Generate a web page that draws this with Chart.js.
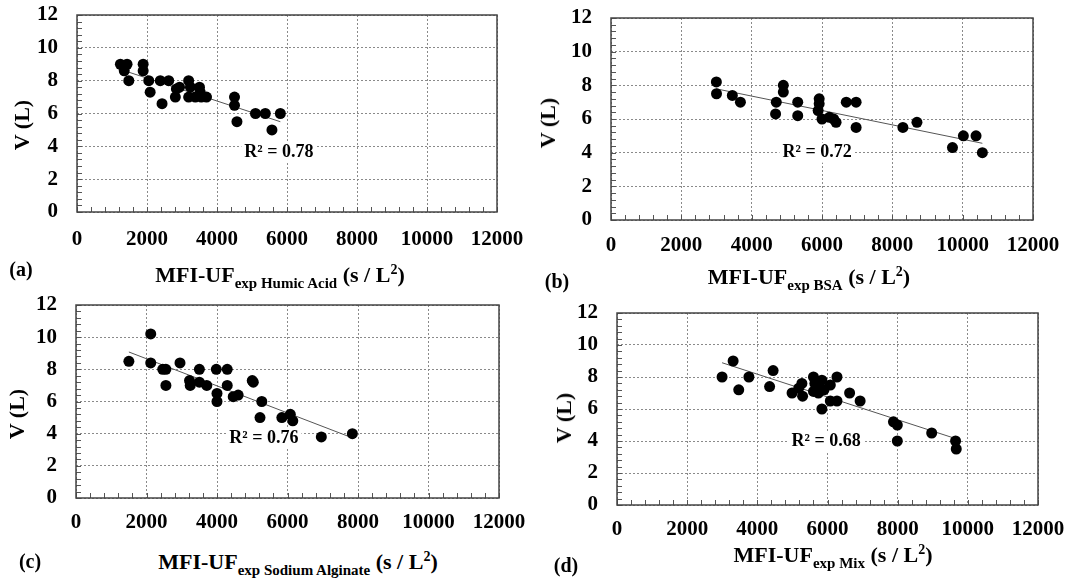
<!DOCTYPE html>
<html>
<head>
<meta charset="utf-8">
<script src="https://cdn.jsdelivr.net/npm/chart.js@4.4.0/dist/chart.umd.min.js"></script>
<style>
  body { margin: 0; background: #fff; width: 1070px; height: 579px; position: relative; overflow: hidden;
         font-family: "Liberation Serif", "Times New Roman", serif; font-weight: bold; color: #000; }
  canvas { position: absolute; }
  .lbl { position: absolute; white-space: nowrap; line-height: 1; }
  .xt { font-size: 22px; transform: translateX(-50%); }
  .xt sub { font-size: 15px; line-height: 0; vertical-align: -6px; }
  .xt sup { font-size: 14px; line-height: 0; vertical-align: 8px; }
  .yt { font-size: 22px; transform: translate(-50%, -50%) rotate(-90deg); }
  .pl { font-size: 20px; transform: translate(-50%, -50%); }
</style>
</head>
<body>

<canvas id="chartA"></canvas>
<canvas id="chartB"></canvas>
<canvas id="chartC"></canvas>
<canvas id="chartD"></canvas>

<div class="lbl yt" style="left:22px;top:125px">V (L)</div>
<div class="lbl yt" style="left:548px;top:123px">V (L)</div>
<div class="lbl yt" style="left:17px;top:414px">V (L)</div>
<div class="lbl yt" style="left:564px;top:418px">V (L)</div>

<div class="lbl xt" style="left:280px;top:264px">MFI-UF<sub>exp Humic Acid</sub> (s / L<sup>2</sup>)</div>
<div class="lbl xt" style="left:809px;top:266px">MFI-UF<sub>exp BSA</sub> (s / L<sup>2</sup>)</div>
<div class="lbl xt" style="left:298px;top:551px">MFI-UF<sub>exp Sodium Alginate</sub> (s / L<sup>2</sup>)</div>
<div class="lbl xt" style="left:833px;top:544px">MFI-UF<sub>exp Mix</sub> (s / L<sup>2</sup>)</div>

<div class="lbl pl" style="left:21px;top:269px">(a)</div>
<div class="lbl pl" style="left:557px;top:281px">(b)</div>
<div class="lbl pl" style="left:30px;top:561px">(c)</div>
<div class="lbl pl" style="left:566px;top:565px">(d)</div>

<script>
// MFI-UF (s/L2) vs filtered volume V (L)
var humicX = [1240, 1430, 1350, 1480, 1890, 1890, 2050, 2090, 2380, 2430, 2620, 2840, 2930, 2810,
              3190, 3240, 3190, 3380, 3500, 3520, 3550, 3700, 4500, 4500, 4570, 5100, 5380, 5570, 5810];
var humicY = [9.0, 9.0, 8.6, 8.0, 9.0, 8.6, 8.0, 7.3, 8.0, 6.6, 8.0, 7.5, 7.6, 7.0,
              8.0, 7.6, 7.0, 7.0, 7.6, 7.3, 7.0, 7.0, 7.0, 6.5, 5.5, 6.0, 6.0, 5.0, 6.0];

var bsaX = [2996, 3000, 3450, 3680, 4680, 4700, 4900, 4900, 5310, 5310, 5920, 5920, 5890, 6000,
            6210, 6400, 6330, 6690, 6970, 6970, 8300, 8700, 9710, 10020, 10380, 10560];
var bsaY = [8.2, 7.5, 7.4, 7.0, 6.3, 7.0, 8.0, 7.6, 7.0, 6.2, 7.2, 6.9, 6.5, 6.0,
            6.1, 5.8, 6.0, 7.0, 7.0, 5.5, 5.5, 5.8, 4.3, 5.0, 5.0, 4.0];

var alginateX = [1500, 2120, 2120, 2460, 2550, 2550, 2950, 3220, 3240, 3500, 3500, 3710, 3980, 4000,
                 4000, 4290, 4290, 4460, 4600, 5030, 5000, 5270, 5220, 5840, 6080, 6150, 6960, 7840];
var alginateY = [8.5, 10.2, 8.4, 8.0, 8.0, 7.0, 8.4, 7.3, 7.0, 7.2, 8.0, 7.0, 8.0, 6.5,
                 6.0, 8.0, 7.0, 6.3, 6.4, 7.2, 7.3, 6.0, 5.0, 5.0, 5.2, 4.8, 3.8, 4.0];

var mixX = [2995, 3310, 3470, 3760, 4350, 4450, 4990, 5180, 5270, 5290, 5600, 5640, 5600, 5700, 5740,
            5840, 5840, 5900, 6080, 6270, 6080, 6270, 6630, 6930, 7880, 7990, 7990, 8970, 9650, 9670];
var mixY = [8.0, 9.0, 7.2, 8.0, 7.4, 8.4, 7.0, 7.3, 7.6, 6.8, 8.0, 7.6, 7.1, 7.4, 7.0,
            7.8, 6.0, 7.2, 7.5, 8.0, 6.5, 6.5, 7.0, 6.5, 5.2, 5.0, 4.0, 4.5, 4.0, 3.5];

var r2Text = ['R\u00b2 = 0.78', 'R\u00b2 = 0.72', 'R\u00b2 = 0.76', 'R\u00b2 = 0.68'];

var xTicks = [0, 2000, 4000, 6000, 8000, 10000, 12000];
var yTicks = [0, 2, 4, 6, 8, 10, 12];

var tickFont = { family: 'Liberation Serif', size: 21, weight: 'bold' };

// least squares line over the data range
function fitLine(xs, ys) {
  var n = xs.length, sx = 0, sy = 0, sxx = 0, sxy = 0;
  for (var i = 0; i < n; i++) {
    sx += xs[i]; sy += ys[i]; sxx += xs[i] * xs[i]; sxy += xs[i] * ys[i];
  }
  var b = (n * sxy - sx * sy) / (n * sxx - sx * sx);
  var a = (sy - b * sx) / n;
  var x0 = Math.min.apply(null, xs), x1 = Math.max.apply(null, xs);
  return [{ x: x0, y: a + b * x0 }, { x: x1, y: a + b * x1 }];
}

// frame, inward minor ticks and the R2 note
var framePlugin = {
  id: 'frame',
  afterDatasetsDraw: function(chart, args, opts) {
    var ctx = chart.ctx, x = chart.scales.x, y = chart.scales.y;
    ctx.save();
    ctx.font = 'bold 18px Liberation Serif';
    ctx.textAlign = 'center';
    ctx.textBaseline = 'middle';
    var px = x.getPixelForValue(opts.noteAt[0]), py = y.getPixelForValue(opts.noteAt[1]);
    var w = ctx.measureText(opts.note).width;
    ctx.fillStyle = '#fff';
    ctx.fillRect(px - w / 2 - 3, py - 10, w + 6, 20);
    ctx.fillStyle = '#000';
    ctx.fillText(opts.note, px, py);
    ctx.restore();
  },
  afterDraw: function(chart) {
    var ctx = chart.ctx, a = chart.chartArea, x = chart.scales.x, y = chart.scales.y;
    ctx.save();
    ctx.strokeStyle = '#555';
    ctx.lineWidth = 1;
    ctx.beginPath();
    for (var i = 0; i <= 30; i++) {
      var tx = Math.round(x.getPixelForValue(i * 400)) + 0.5;
      ctx.moveTo(tx, a.bottom); ctx.lineTo(tx, a.bottom - 5);
      var ty = Math.round(y.getPixelForValue(i * 0.4)) + 0.5;
      ctx.moveTo(a.left, ty); ctx.lineTo(a.left + 5, ty);
    }
    ctx.stroke();
    ctx.lineWidth = 1.5;
    ctx.strokeStyle = '#444';
    ctx.strokeRect(a.left, a.top, a.right - a.left, a.bottom - a.top);
    ctx.restore();
  }
};

function makeChart(id, xs, ys, box, note, noteAt, xPad) {
  var cv = document.getElementById(id);
  cv.width = (box.r - box.l) + 77 + 40;
  cv.height = (box.b - box.t) + 15 + 50;
  cv.style.left = (box.l - 77) + 'px';
  cv.style.top = (box.t - 15) + 'px';

  var pts = xs.map(function(v, i) { return { x: v, y: ys[i] }; });

  new Chart(cv, {
    type: 'scatter',
    data: {
      datasets: [
        { data: pts, backgroundColor: '#000', borderColor: '#000', borderWidth: 0,
          pointRadius: 5.5, pointHoverRadius: 5.5, order: 0 },
        { data: fitLine(xs, ys), showLine: true, borderColor: '#555', borderWidth: 1,
          pointRadius: 0, fill: false, order: 1 }
      ]
    },
    options: {
      responsive: false,
      animation: false,
      events: [],
      layout: { padding: { top: 15, right: 40, left: 0, bottom: 0 } },
      plugins: {
        legend: { display: false },
        tooltip: { enabled: false },
        frame: { note: note, noteAt: noteAt }
      },
      scales: {
        x: {
          type: 'linear', min: 0, max: 12000,
          afterBuildTicks: function(s) { s.ticks = xTicks.map(function(v) { return { value: v }; }); },
          afterFit: function(s) { s.height = 50; s.paddingLeft = 0; s.paddingRight = 0; },
          grid: { color: '#8a8a8a', lineWidth: 1, drawTicks: false },
          border: { display: false, dash: [2, 2] },
          ticks: { color: '#000', font: tickFont, padding: xPad, maxRotation: 0, autoSkip: false,
                   callback: function(v) { return String(v); } }
        },
        y: {
          type: 'linear', min: 0, max: 12,
          afterBuildTicks: function(s) { s.ticks = yTicks.map(function(v) { return { value: v }; }); },
          afterFit: function(s) { s.width = 77; s.paddingTop = 0; s.paddingBottom = 0; },
          grid: { color: '#8a8a8a', lineWidth: 1, drawTicks: false },
          border: { display: false, dash: [2, 2] },
          ticks: { color: '#000', font: tickFont, padding: 19,
                   callback: function(v) { return String(v); } }
        }
      }
    },
    plugins: [framePlugin]
  });
}

makeChart('chartA', humicX, humicY, { l: 77, t: 15, r: 497, b: 212 }, r2Text[0], [5770, 3.65], 15);
makeChart('chartB', bsaX, bsaY, { l: 611, t: 18, r: 1033, b: 220 }, r2Text[1], [5860, 4.0], 13);
makeChart('chartC', alginateX, alginateY, { l: 76, t: 305, r: 499, b: 498 }, r2Text[2], [5330, 3.7], 12);
makeChart('chartD', mixX, mixY, { l: 617, t: 313, r: 1038, b: 505 }, r2Text[3], [5960, 3.96], 12);
</script>
</body>
</html>
